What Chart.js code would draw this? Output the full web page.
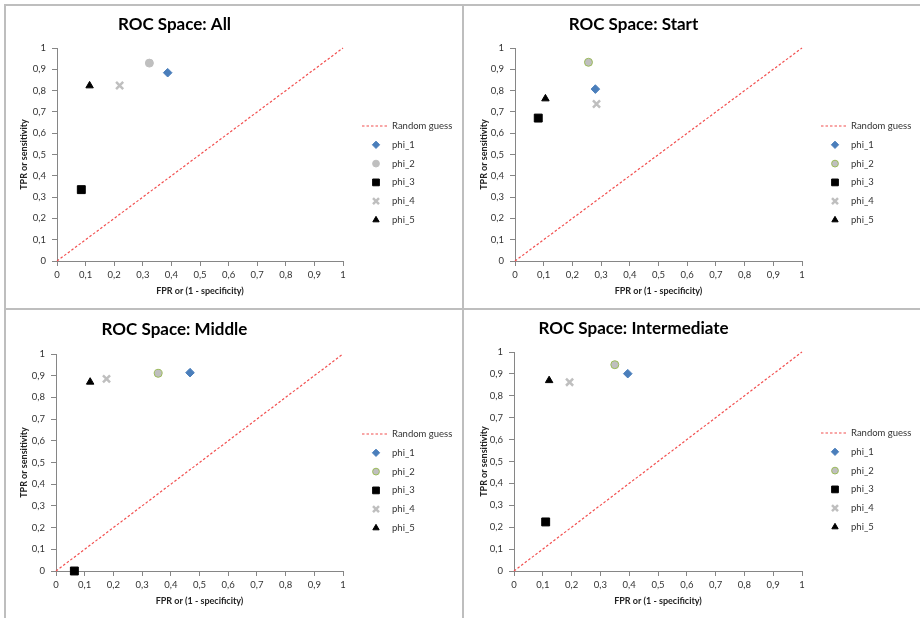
<!DOCTYPE html>
<html><head><meta charset="utf-8">
<script src="https://cdn.jsdelivr.net/npm/chart.js@4.4.1/dist/chart.umd.min.js"></script>
<style>
html,body{margin:0;padding:0;background:#fff;}
body{width:920px;height:618px;position:relative;overflow:hidden;font-family:Lato,sans-serif;}
.ln{position:absolute;background:#BEBEBE;}
canvas{position:absolute;}
</style></head><body>
<div class="ln" style="left:4px;top:4px;width:916px;height:2px"></div>
<div class="ln" style="left:4px;top:308px;width:916px;height:2px"></div>
<div class="ln" style="left:4px;top:4px;width:2px;height:614px"></div>
<div class="ln" style="left:462px;top:4px;width:2px;height:614px"></div>
<canvas id="c0"></canvas><canvas id="c1"></canvas><canvas id="c2"></canvas><canvas id="c3"></canvas>
<script>
// ---- data ----
const seriesNames = ['phi_1', 'phi_2', 'phi_3', 'phi_4', 'phi_5'];
const panelTitles = ['ROC Space: All', 'ROC Space: Start', 'ROC Space: Middle', 'ROC Space: Intermediate'];
const randomGuessLabel = 'Random guess';
const randomGuessX = [0, 1];
const randomGuessY = [0, 1];
const fprAll = [0.387, 0.323, 0.085, 0.219, 0.114];
const tprAll = [0.884, 0.929, 0.335, 0.824, 0.823];
const fprStart = [0.280, 0.256, 0.081, 0.284, 0.106];
const tprStart = [0.807, 0.933, 0.671, 0.737, 0.762];
const fprMiddle = [0.467, 0.356, 0.064, 0.176, 0.119];
const tprMiddle = [0.914, 0.911, 0.000, 0.885, 0.871];
const fprInter = [0.395, 0.350, 0.110, 0.193, 0.122];
const tprInter = [0.901, 0.942, 0.224, 0.862, 0.870];
const tickLabels = ['0', '0,1', '0,2', '0,3', '0,4', '0,5', '0,6', '0,7', '0,8', '0,9', '1'];
const xAxisTitle = 'FPR or (1 - specificity)';
const yAxisTitle = 'TPR or sensitivity';

const panelFpr = [fprAll, fprStart, fprMiddle, fprInter];
const panelTpr = [tprAll, tprStart, tprMiddle, tprInter];

// ---- layout (absolute page coords) ----
const boxes = [
  {x: 6, y: 6, w: 456, h: 302, plot: [57, 48, 343, 261], titleY: 24.5, yTitleX: 24},
  {x: 465, y: 6, w: 455, h: 302, plot: [515, 48, 802, 261], titleY: 24.5, yTitleX: 484},
  {x: 6, y: 311, w: 456, h: 307, plot: [56, 354, 343, 571], titleY: 330, yTitleX: 24},
  {x: 465, y: 311, w: 455, h: 307, plot: [514, 352, 802, 571], titleY: 329, yTitleX: 484}
];

const FONT = 'Lato, "Open Sans", sans-serif';
const axisColor = '#868686';

function seriesStyle(i, panel) {
  const styles = [
    {pointStyle: 'rectRot', radius: 4.3, bg: '#4A7EBB', border: '#4A7EBB', bw: 1},
    {pointStyle: 'circle', radius: 4, bg: '#BFBFBF', border: panel === 0 ? '#BFBFBF' : '#9BBB59', bw: 1},
    {pointStyle: 'rect', radius: 5.6, bg: '#000000', border: '#000000', bw: 1},
    {pointStyle: 'crossRot', radius: 5, bg: '#BFBFBF', border: '#BFBFBF', bw: 2.5},
    {pointStyle: 'triangle', radius: 4.3, bg: '#000000', border: '#000000', bw: 1}
  ];
  return styles[i];
}

const sideLegend = {
  id: 'sideLegend',
  afterDraw(chart) {
    const ctx = chart.ctx, ca = chart.chartArea;
    const cy = (ca.top + ca.bottom) / 2;
    ctx.save();
    ctx.font = '9.5px ' + FONT;
    ctx.textBaseline = 'middle';
    ctx.textAlign = 'left';
    chart.data.datasets.forEach((ds, i) => {
      const y = cy - 28.5 + i * 18.8;
      if (ds.showLine) {
        ctx.save();
        ctx.strokeStyle = ds.borderColor;
        ctx.lineWidth = ds.borderWidth;
        ctx.setLineDash(ds.borderDash);
        ctx.beginPath();
        ctx.moveTo(ca.right + 19, y);
        ctx.lineTo(ca.right + 44, y);
        ctx.stroke();
        ctx.restore();
      } else {
        ctx.save();
        ctx.fillStyle = ds.pointBackgroundColor;
        ctx.strokeStyle = ds.pointBorderColor;
        ctx.lineWidth = ds.pointBorderWidth;
        Chart.helpers.drawPoint(ctx, {pointStyle: ds.pointStyle, radius: ds.pointRadius * 0.85, rotation: 0, borderWidth: ds.pointBorderWidth}, ca.right + 33, y);
        ctx.restore();
      }
      ctx.fillStyle = '#333333';
      ctx.fillText(ds.label, ca.right + 49, y);
    });
    ctx.restore();
  }
};

boxes.forEach((b, p) => {
  const cv = document.getElementById('c' + p);
  cv.width = b.w; cv.height = b.h;
  cv.style.left = b.x + 'px'; cv.style.top = b.y + 'px';
  cv.style.width = b.w + 'px'; cv.style.height = b.h + 'px';
  const L = b.plot[0] - b.x, T = b.plot[1] - b.y, R = b.plot[2] - b.x, B = b.plot[3] - b.y;
  const titleSize = 17, titleLH = titleSize * 1.2;
  const tCenter = b.titleY - b.y;
  const tPadTop = tCenter - titleLH / 2;
  const tPadBottom = T - tPadTop - titleLH;
  const axTitleSize = 9, axLH = axTitleSize * 1.2;
  const xTitleCenter = (b.plot[3] + 29.7) - b.y;
  const xTitlePadBottom = b.h - xTitleCenter - axLH / 2;
  const yTitlePadTop = (b.yTitleX - b.x) - axLH / 2;

  const datasets = [{
    label: randomGuessLabel,
    data: randomGuessX.map((x, k) => ({x: x, y: randomGuessY[k]})),
    showLine: true,
    borderColor: '#F24F4F',
    borderWidth: 1.2,
    borderDash: [2.5, 2],
    pointRadius: 0,
    pointHoverRadius: 0,
    clip: false,
    order: 10
  }];
  const fpr = panelFpr[p], tpr = panelTpr[p];
  seriesNames.forEach((name, i) => {
    const s = seriesStyle(i, p);
    datasets.push({
      label: name,
      data: [{x: fpr[i], y: tpr[i]}],
      pointStyle: s.pointStyle,
      pointRadius: s.radius,
      pointBackgroundColor: s.bg,
      pointBorderColor: s.border,
      pointBorderWidth: s.bw,
      backgroundColor: s.bg,
      borderColor: s.border,
      showLine: false,
      clip: false,
      order: 5 - i
    });
  });

  new Chart(cv, {
    type: 'scatter',
    data: {datasets},
    plugins: [sideLegend],
    options: {
      responsive: false,
      animation: false,
      devicePixelRatio: 1,
      layout: {padding: {left: 0, top: 0, right: b.w - R, bottom: 0}},
      plugins: {
        legend: {display: false},
        tooltip: {enabled: false},
        title: {
          display: true, text: panelTitles[p], color: '#000000',
          font: {family: FONT, size: titleSize, weight: 'bold', lineHeight: 1.2},
          padding: {top: tPadTop, bottom: tPadBottom}
        }
      },
      scales: {
        x: {
          type: 'linear', min: 0, max: 1,
          afterFit: (s) => { s.height = b.h - B; },
          ticks: {stepSize: 0.1, color: '#333333', padding: 3, font: {family: FONT, size: 9.5},
                  callback: (v, i) => tickLabels[i], maxRotation: 0, autoSkip: false},
          grid: {display: true, drawOnChartArea: false, drawTicks: true, tickLength: 5, color: axisColor},
          border: {display: true, color: axisColor, width: 1},
          title: {display: true, text: xAxisTitle, color: '#222222',
                  font: {family: FONT, size: axTitleSize, weight: 'bold', lineHeight: 1.2},
                  padding: {top: 0, bottom: xTitlePadBottom}}
        },
        y: {
          type: 'linear', min: 0, max: 1,
          afterFit: (s) => { s.width = L; },
          ticks: {stepSize: 0.1, color: '#333333', padding: 6, font: {family: FONT, size: 9.5},
                  callback: (v, i) => tickLabels[i], autoSkip: false},
          grid: {display: true, drawOnChartArea: false, drawTicks: true, tickLength: 5, color: axisColor},
          border: {display: true, color: axisColor, width: 1},
          title: {display: true, text: yAxisTitle, color: '#222222',
                  font: {family: FONT, size: axTitleSize, weight: 'bold', lineHeight: 1.2},
                  padding: {top: yTitlePadTop, bottom: 0}}
        }
      }
    }
  });
});
</script>
</body></html>
